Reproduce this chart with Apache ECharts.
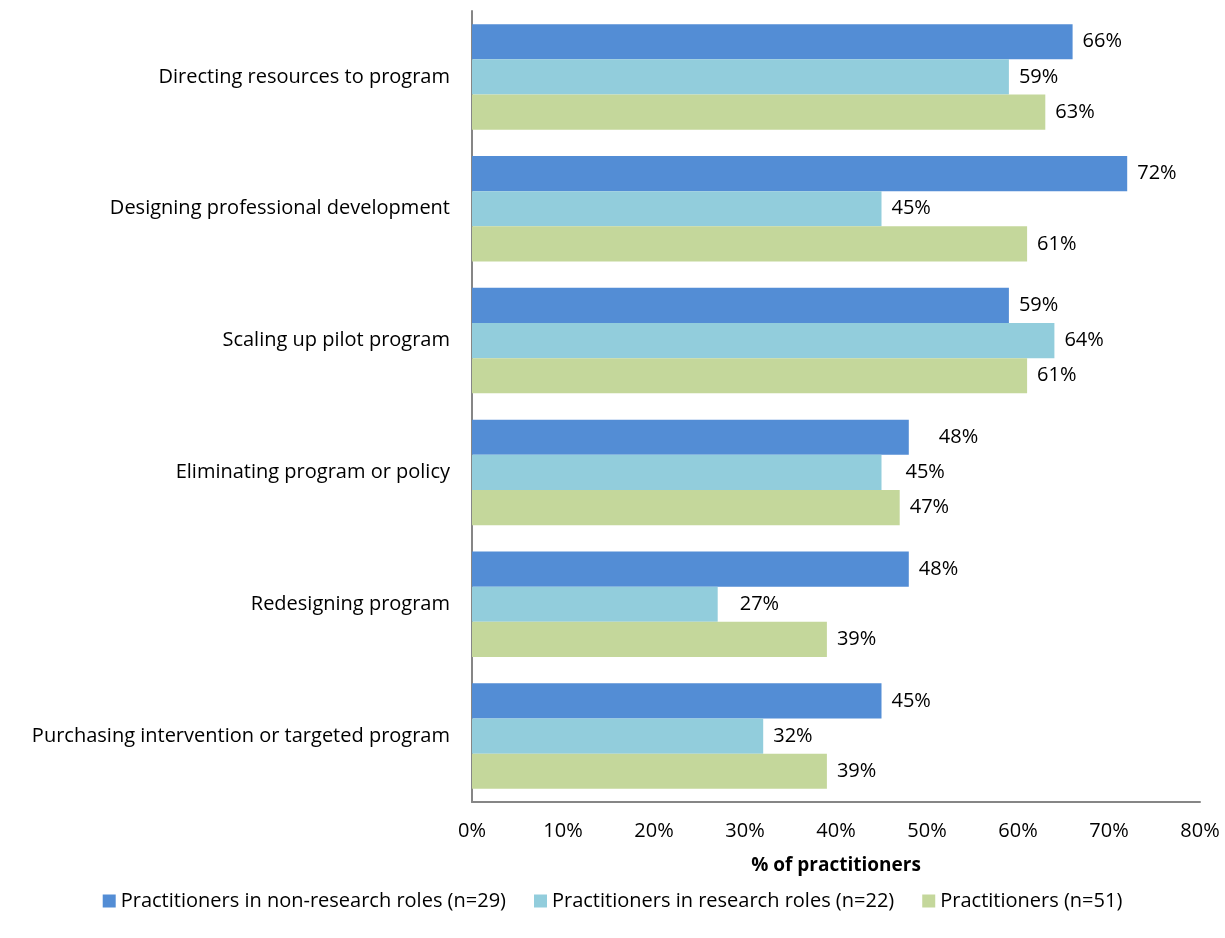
<!DOCTYPE html>
<html>
<head>
<meta charset="utf-8">
<script src="https://cdn.jsdelivr.net/npm/echarts@6/dist/echarts.min.js"></script>
<style>
  html, body { margin: 0; padding: 0; background: #fff; }
  #main { width: 1225px; height: 938px; }
</style>
</head>
<body>
<div id="main"></div>
<script>
var categories = [
    'Directing resources to program',
    'Designing professional development',
    'Scaling up pilot program',
    'Eliminating program or policy',
    'Redesigning program',
    'Purchasing intervention or targeted program'
];
var seriesNames = [
    'Practitioners in non-research roles (n=29)',
    'Practitioners in research roles (n=22)',
    'Practitioners (n=51)'
];
var nonResearch = [66, 72, 59, 48, 48, 45];
var research = [59, 45, 64, 45, 27, 32];
var allPractitioners = [63, 61, 61, 47, 39, 39];
var xTicks = [0, 10, 20, 30, 40, 50, 60, 70, 80];

// some labels in the original were nudged further right by hand
var labelShift = [
    [0, 0, 0, 20, 0, 0],
    [0, 0, 0, 14, 12, 0],
    [0, 0, 0, 0, 0, 0]
];

var colors = ['#538DD5', '#92CDDC', '#C4D79B'];
var font = '"Open Sans", sans-serif';
var fs = 20;

function makeSeries(idx, values) {
    return {
        name: seriesNames[idx],
        type: 'bar',
        barGap: '0%',
        barCategoryGap: '20%',
        itemStyle: { color: colors[idx] },
        label: {
            show: true,
            position: 'right',
            distance: 10,
            formatter: '{c}%',
            color: '#000',
            fontSize: fs,
            fontFamily: font
        },
        data: values.map(function (v, i) {
            var d = { value: v };
            if (labelShift[idx][i]) d.label = { offset: [labelShift[idx][i], 0] };
            return d;
        })
    };
}

var myChart = echarts.init(document.getElementById('main'));
var option = {
    animation: false,
    textStyle: { fontFamily: font },
    grid: { left: 472, right: 25, top: 11, bottom: 136, containLabel: false },
    legend: {
        top: 886,
        left: 'center',
        icon: 'rect',
        itemWidth: 13,
        itemHeight: 13,
        itemGap: 28,
        textStyle: { fontSize: fs, color: '#000', fontFamily: font },
        data: seriesNames
    },
    xAxis: {
        type: 'value',
        min: xTicks[0],
        max: xTicks[xTicks.length - 1],
        interval: 10,
        name: '% of practitioners',
        nameLocation: 'middle',
        nameGap: 54,
        nameTextStyle: { fontSize: 19, fontWeight: 'bold', color: '#000', fontFamily: font },
        axisLine: { show: true, lineStyle: { color: '#868686', width: 2 } },
        axisTick: { show: false },
        splitLine: { show: false },
        axisLabel: { formatter: '{value}%', fontSize: fs, color: '#000', margin: 19, fontFamily: font }
    },
    yAxis: {
        type: 'category',
        inverse: true,
        data: categories,
        axisLine: { show: true, lineStyle: { color: '#868686', width: 2 } },
        axisTick: { show: false },
        axisLabel: { fontSize: fs, color: '#000', margin: 22, fontFamily: font }
    },
    series: [
        makeSeries(0, nonResearch),
        makeSeries(1, research),
        makeSeries(2, allPractitioners)
    ]
};
myChart.setOption(option);
</script>
</body>
</html>
